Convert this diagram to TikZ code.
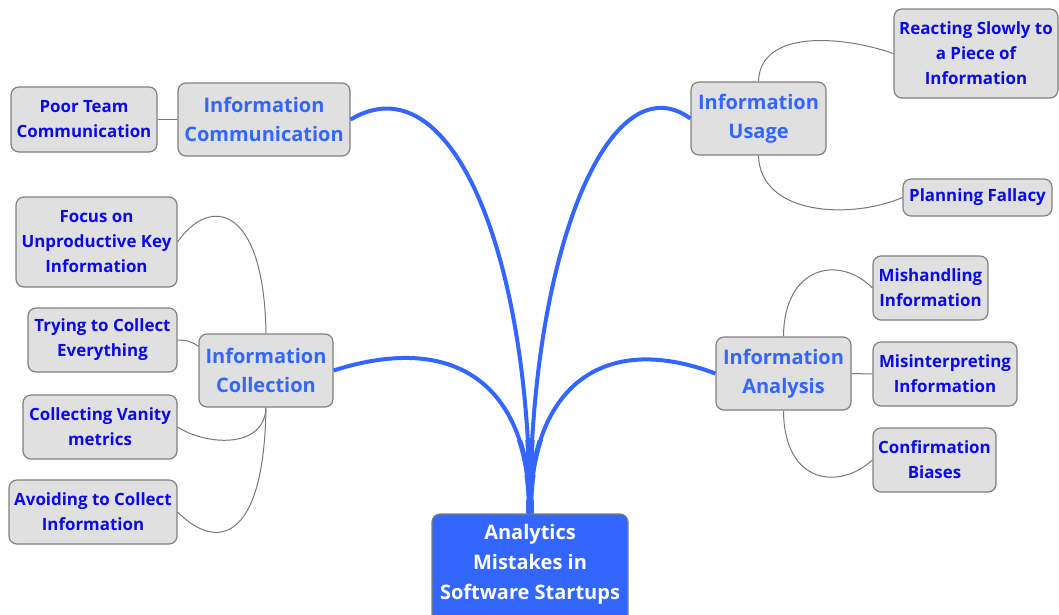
\documentclass[tikz,border=0pt]{standalone}
\usepackage{fontspec}
\setmainfont{Open Sans}
\usetikzlibrary{calc}
\definecolor{boxgray}{RGB}{224,224,224}
\definecolor{boxline}{RGB}{128,128,128}
\definecolor{mainblue}{RGB}{51,102,255}
\definecolor{childblue}{RGB}{10,10,235}
\definecolor{edgegray}{RGB}{120,120,120}
\tikzset{
  box/.style={draw=boxline, line width=1.2pt, fill=boxgray, rounded corners=8pt, inner sep=0pt, align=center},
  childbox/.style={box, text=childblue, font=\bfseries\fontsize{16.9}{25}\selectfont},
  mainbox/.style={box, text=mainblue, font=\bfseries\fontsize{20}{29.5}\selectfont},
  rootbox/.style={draw=boxline, line width=1.2pt, fill=mainblue, rounded corners=8pt, inner sep=0pt},
  roottext/.style={text=white, inner sep=0pt, align=center, font=\bfseries\fontsize{20}{30}\selectfont},
  bluedge/.style={draw=mainblue, line width=4pt},
  grayedge/.style={draw=edgegray, line width=1pt},
}
\begin{document}
\begin{tikzpicture}[x=1pt,y=-1pt]
\useasboundingbox (0,0) rectangle (1059,614);
% root
\node[rootbox, minimum width=196, minimum height=126] (rbox) at (530,577) {};
\node[roottext] (root) at (530,564) {Analytics\\Mistakes in\\Software Startups};
% main nodes
\node[mainbox, minimum width=172, minimum height=73] (ic) at (264,119.5) {Information\\Communication};
\node[mainbox, minimum width=135, minimum height=73] (iu) at (758.5,118.5) {Information\\Usage};
\node[mainbox, minimum width=134, minimum height=73] (icol) at (266,370.5) {Information\\Collection};
\node[mainbox, minimum width=135, minimum height=73] (ia) at (783.5,373.5) {Information\\Analysis};
% children
\node[childbox, minimum width=146, minimum height=65] (ptc) at (84,119.5) {Poor Team\\Communication};
\node[childbox, minimum width=164, minimum height=89] (rs) at (976,53.5) {Reacting Slowly to\\a Piece of\\Information};
\node[childbox, minimum width=149, minimum height=37] (pf) at (977.5,197.5) {Planning Fallacy};
\node[childbox, minimum width=161, minimum height=90] (focus) at (96.5,242) {Focus on\\Unproductive Key\\Information};
\node[childbox, minimum width=149, minimum height=64] (trying) at (102.5,340) {Trying to Collect\\Everything};
\node[childbox, minimum width=154, minimum height=64] (vanity) at (100,427) {Collecting Vanity\\metrics};
\node[childbox, minimum width=168, minimum height=64] (avoid) at (93,512) {Avoiding to Collect\\Information};
\node[childbox, minimum width=115, minimum height=64] (mish) at (930.5,288) {Mishandling\\Information};
\node[childbox, minimum width=144, minimum height=64] (misint) at (945,374) {Misinterpreting\\Information};
\node[childbox, minimum width=123, minimum height=64] (conf) at (934.5,460) {Confirmation\\Biases};
% blue edges (slightly thicker towards the root)
\foreach \w/\ytop in {4/0, 5/440, 6/475, 7/500} {
  \begin{scope}
  \clip (0,\ytop) rectangle (1059,514);
  \draw[bluedge, line width=\w pt] (rbox.north) .. controls (530,250) and (450,60) .. (ic.east);
  \draw[bluedge, line width=\w pt] (rbox.north) .. controls (530,250) and (610,60) .. (iu.west);
  \draw[bluedge, line width=\w pt] (rbox.north) .. controls (530,390) and (460,330) .. (icol.east);
  \draw[bluedge, line width=\w pt] (rbox.north) .. controls (530,390) and (600,330) .. (ia.west);
  \end{scope}
}
% gray edges
\draw[grayedge] (ptc.east) -- (ic.west);
\draw[grayedge] (iu.north) .. controls (760,30) and (840,35) .. (rs.west);
\draw[grayedge] (iu.south) .. controls (760,215) and (850,220) .. (pf.west);
\draw[grayedge] (icol.north) .. controls (264,205) and (210,195) .. (focus.east);
\coordinate (icolin) at ($(icol.north west)+(0,13)$);
\draw[grayedge] (trying.east) .. controls (188,340) and (192,342) .. (icolin);
\draw[grayedge] (icol.south) .. controls (264,450) and (205,445) .. (vanity.east);
\draw[grayedge] (icol.south) .. controls (264,545) and (215,550) .. (avoid.east);
\draw[grayedge] (ia.north) .. controls (784,265) and (840,255) .. (mish.west);
\draw[grayedge] (ia.east) -- (misint.west);
\draw[grayedge] (ia.south) .. controls (784,485) and (840,490) .. (conf.west);
\end{tikzpicture}
\end{document}
